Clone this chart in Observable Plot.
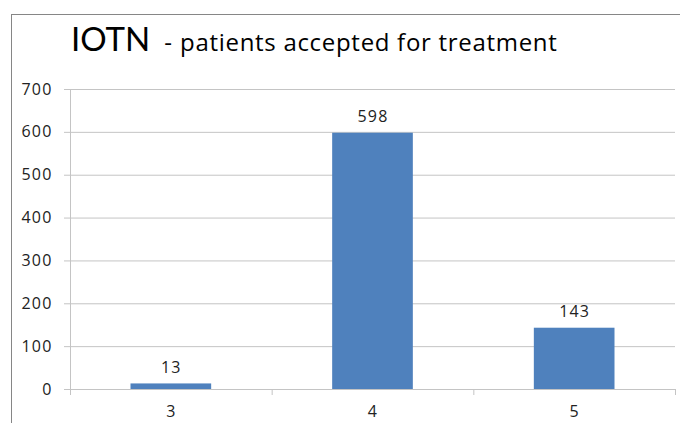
<!DOCTYPE html>
<html><head><meta charset="utf-8">
<script src="https://cdn.jsdelivr.net/npm/d3@7"></script>
<script src="https://cdn.jsdelivr.net/npm/@observablehq/plot@0.6"></script>
<style>
body{margin:0;background:#fff;}
#wrap{position:relative;width:680px;height:423px;overflow:hidden;font-family:"Open Sans",sans-serif;}
#frame{position:absolute;left:11px;top:14px;width:700px;height:430px;border-left:1.5px solid #868686;border-top:1.5px solid #868686;box-sizing:border-box;}
#title{position:absolute;left:71px;top:18px;white-space:nowrap;color:#000;}
#title .a{font-family:Lato,sans-serif;font-size:33px;}
#title .d{font-family:"Open Sans",sans-serif;font-size:24px;margin-left:14px;}
#title .b{font-family:"Open Sans",sans-serif;font-size:24px;letter-spacing:0.7px;margin-left:8px;}
#chart{position:absolute;left:0;top:0;}
svg text{letter-spacing:1.2px;}
</style></head>
<body>
<div id="wrap">
<div id="frame"></div>
<div id="title"><span class="a">IOTN</span><span class="d">-</span><span class="b">patients accepted for treatment</span></div>
<div id="chart"></div>
</div>
<script>
const categories = [3, 4, 5];
const values = [13, 598, 143];
const yTicks = [0, 100, 200, 300, 400, 500, 600, 700];

const data = categories.map((c, i) => ({c, v: values[i]}));
const half = 0.2;
const lo = categories[0] - 0.5, hi = categories[categories.length - 1] + 0.5;
const bounds = d3.range(lo, hi + 0.01, 1);
const fs = 16;

const chart = Plot.plot({
  width: 680, height: 423,
  marginLeft: 70, marginRight: 5, marginTop: 89, marginBottom: 34,
  style: {fontFamily: "'Open Sans', sans-serif", fontSize: fs + "px", color: "#222", background: "transparent"},
  x: {type: "linear", domain: [lo, hi]},
  y: {domain: [0, 700]},
  marks: [
    Plot.gridY(yTicks, {stroke: "#c4c4c4", strokeOpacity: 1}),
    Plot.ruleX([lo], {stroke: "#c4c4c4"}),
    Plot.ruleY([0], {stroke: "#c4c4c4"}),
    Plot.axisY(yTicks, {tickSize: 6, tickPadding: 12, stroke: "#c4c4c4", label: null, tickFormat: d => d, fill: "#222", fontSize: fs}),
    Plot.axisX(bounds, {tickSize: 6, tickFormat: () => "", stroke: "#c4c4c4", label: null}),
    Plot.axisX(categories, {tickSize: 0, tickPadding: 16, label: null, tickFormat: d => d, fill: "#222", fontSize: fs}),
    Plot.rectY(data, {x1: d => d.c - half, x2: d => d.c + half, y1: 0, y2: "v", fill: "#4f81bd"}),
    Plot.text(data, {x: "c", y: "v", text: d => String(d.v), dy: -16, fontSize: fs, fill: "#222"})
  ]
});
document.getElementById("chart").appendChild(chart);
</script>
</body></html>
